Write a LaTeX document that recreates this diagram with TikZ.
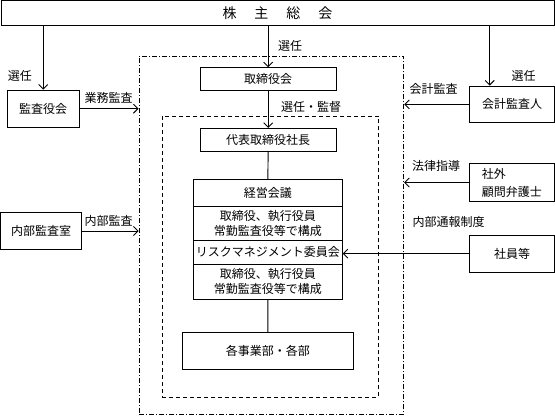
\documentclass[tikz,border=0pt]{standalone}
\usepackage{fontspec}
\newfontfamily\jp{Noto Sans CJK JP}
\usetikzlibrary{arrows.meta}
\tikzset{
  box/.style={draw, line width=0.9pt, inner sep=0pt, align=center, font=\jp\fontsize{12}{15}\selectfont},
  lbl/.style={inner sep=0pt, font=\jp\fontsize{12}{15}\selectfont},
  conn/.style={line width=0.9pt},
  arr/.style={line width=0.9pt, -{Straight Barb[length=4.5pt,width=9pt,line width=0.9pt]}},
  dashdotbox/.style={draw, line width=0.9pt, dash pattern=on 5pt off 2pt on 1pt off 2pt, inner sep=0pt},
  dashbox/.style={draw, line width=0.9pt, dash pattern=on 4pt off 3pt, inner sep=0pt}
}
\begin{document}
\begin{tikzpicture}[x=1pt,y=-1pt]
\useasboundingbox (0,0) rectangle (555,416);
% containers
\node[dashdotbox, minimum width=264.7pt, minimum height=358.7pt] (outer) at (271.35,235.35) {};
\node[dashbox, minimum width=216.4pt, minimum height=281pt] (inner) at (270.5,256.5) {};
% boxes
\node[box, minimum width=553pt, minimum height=25pt, font=\jp\fontsize{14}{16}\selectfont] (top) at (277.5,13.2) {株\hspace{18pt}主\hspace{18pt}総\hspace{18pt}会};
\node[box, minimum width=71.7pt, minimum height=37.3pt] (kansa) at (43.2,108.7) {監査役会};
\node[box, minimum width=81pt, minimum height=37.4pt] (naibu) at (41.2,231) {内部監査室};
\node[box, minimum width=136.3pt, minimum height=23pt] (tori) at (268.2,79.2) {取締役会};
\node[box, minimum width=136.3pt, minimum height=22.7pt] (daihyo) at (268.2,139.7) {代表取締役社長};
\node[box, minimum width=149pt, minimum height=26.5pt] (keiei) at (267.8,192.75) {経営会議};
\node[box, minimum width=149pt, minimum height=34pt] (kosei1) at (267.8,223) {取締役、執行役員\\常勤監査役等で構成};
\node[box, minimum width=149pt, minimum height=24pt] (risk) at (267.8,252) {リスクマネジメント委員会};
\node[box, minimum width=149pt, minimum height=35pt] (kosei2) at (267.8,281.5) {取締役、執行役員\\常勤監査役等で構成};
\node[box, minimum width=170.3pt, minimum height=36.7pt] (jigyo) at (267.85,350.65) {各事業部・各部};
\node[box, minimum width=84.6pt, minimum height=36.7pt] (kaikei) at (512,104.35) {会計監査人};
\node[box, minimum width=84.3pt, minimum height=38.4pt, align=left, font=\jp\fontsize{12}{18}\selectfont] (shagai) at (511.85,182.5) {社外\\顧問弁護士};
\node[box, minimum width=84.6pt, minimum height=36.7pt] (shain) at (512,253.65) {社員等};
% labels
\node[lbl] (l1) at (20,76) {選任};
\node[lbl] (l2) at (290,45.7) {選任};
\node[lbl] (l3) at (523.5,76) {選任};
\node[lbl] (l4) at (108.5,98.3) {業務監査};
\node[lbl] (l5) at (433.5,89) {会計監査};
\node[lbl] (l6) at (311,106.7) {選任・監督};
\node[lbl] (l7) at (436,165.7) {法律指導};
\node[lbl] (l8) at (448.7,222) {内部通報制度};
\node[lbl] (l9) at (108.5,220.7) {内部監査};
% connectors
\draw[arr] (kansa.north |- top.south) -- (kansa.north);
\draw[arr] (tori.north |- top.south) -- (tori.north);
\coordinate (kx) at ([xshift=-22.3pt]kaikei.north);
\draw[arr] (kx |- top.south) -- (kx);
\draw[arr] (tori.south) -- (daihyo.north);
\draw[conn] (daihyo.south) -- (keiei.north);
\draw[conn] (kosei2.south) -- (jigyo.north);
\draw[arr] (kansa.east) -- (kansa.east -| outer.west);
\draw[arr] (naibu.east) -- (naibu.east -| outer.west);
\draw[arr] (kaikei.west) -- (kaikei.west -| outer.east);
\draw[arr] (shagai.west) -- (shagai.west -| outer.east);
\draw[arr] (shain.west) -- (shain.west -| risk.east);
\end{tikzpicture}
\end{document}
